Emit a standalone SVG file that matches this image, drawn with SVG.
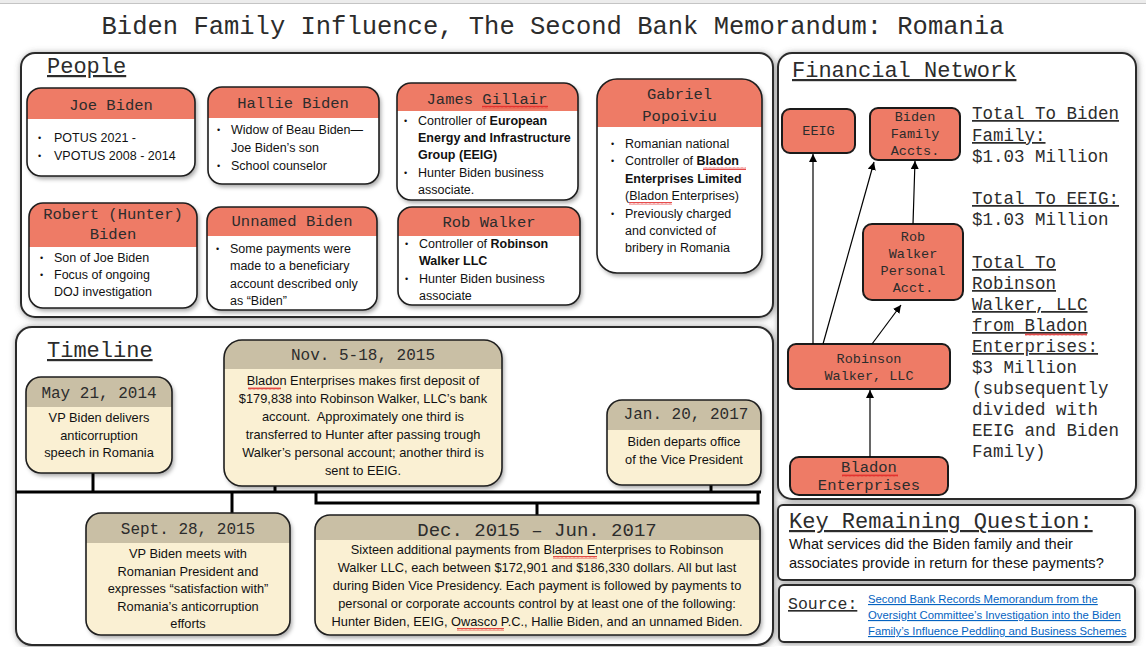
<svg xmlns="http://www.w3.org/2000/svg" width="1146" height="647" viewBox="0 0 1146 647">
<defs>
<style>
.mono{font-family:"Liberation Mono","Courier New",monospace;fill:#2c2c2c}
.sans{font-family:"Liberation Sans",Arial,sans-serif;fill:#111}
.panel{fill:#fff;stroke:#2a2a2a;stroke-width:2}
.cardbg{fill:#fff}
.tlbg{fill:#faf0d3}
.outline{fill:none;stroke:#1e1e1e;stroke-width:1.6}
.salmon{fill:#ee7b66}
.taupe{fill:#c9bfa5}
.hd{font-size:15.5px;text-anchor:middle}
.bl{font-size:12.5px}
.bu{font-size:9px}
.tb{font-size:12.8px;text-anchor:middle}
.dt{font-size:16px;text-anchor:middle}
.fn{font-size:13.5px;text-anchor:middle}
.tot{font-size:17.5px}
.u{text-decoration:underline}
.tl{stroke:#000;stroke-width:3;fill:none}
.arr{stroke:#000;stroke-width:1.2;fill:none;marker-end:url(#ah)}
.sq{fill:url(#squig)}
</style>
<filter id="sh" x="-10%" y="-10%" width="125%" height="130%">
<feDropShadow dx="2" dy="3" stdDeviation="2" flood-color="#000" flood-opacity="0.35"/>
</filter>
<filter id="psh" x="-5%" y="-5%" width="110%" height="112%">
<feDropShadow dx="1" dy="1" stdDeviation="3" flood-color="#555" flood-opacity="0.65"/>
</filter>
<marker id="ah" viewBox="0 0 10 10" refX="10" refY="5" markerWidth="8" markerHeight="8" markerUnits="userSpaceOnUse" orient="auto">
<path d="M0,0 L10,5 L0,10 Z" fill="#000"/>
</marker>
<pattern id="squig" width="4" height="3" patternUnits="userSpaceOnUse">
<path d="M0,2.5 L1,0.5 L2,2.5 L3,0.5 L4,2.5" stroke="#e02020" stroke-width="0.8" fill="none"/>
</pattern>
</defs>

<rect x="0" y="0" width="1146" height="647" fill="#fff"/>
<rect x="0" y="0" width="1146" height="3" fill="#ececec"/>
<line x1="0" y1="3.5" x2="1146" y2="3.5" stroke="#c4c4c4" stroke-width="1"/>

<text class="mono" x="553" y="34" font-size="25.5" text-anchor="middle">Biden Family Influence, The Second Bank Memorandum: Romania</text>

<!-- Panels -->
<g id="people-panel">
<rect class="panel" x="21" y="53" width="752" height="264" rx="14" filter="url(#psh)"/>
<text class="mono u" x="47" y="73" font-size="22">People</text>
</g>
<g id="timeline-panel">
<rect class="panel" x="16" y="327" width="757" height="318" rx="16" filter="url(#psh)"/>
<text class="mono u" x="47" y="357" font-size="22">Timeline</text>
</g>
<g id="financial-panel">
<rect class="panel" x="778" y="53" width="358" height="446" rx="14" filter="url(#psh)"/>
<text class="mono u" x="792" y="77" font-size="22">Financial Network</text>
</g>

<!-- People cards -->
<g id="joe-biden">
<rect class="cardbg" x="27" y="88" width="168" height="88" rx="14" filter="url(#sh)"/>
<path class="salmon" d="M27,119 V102 A14,14 0 0 1 41,88 H181 A14,14 0 0 1 195,102 V119 Z"/>
<rect class="outline" x="27" y="88" width="168" height="88" rx="14"/>
<text class="mono hd" x="111" y="110">Joe Biden</text>
<text class="sans bu" x="38" y="141">•</text><text class="sans bl" x="54" y="142">POTUS 2021 -</text>
<text class="sans bu" x="38" y="159">•</text><text class="sans bl" x="54" y="160">VPOTUS 2008 - 2014</text>
</g>

<g id="hallie-biden">
<rect class="cardbg" x="208" y="87" width="171" height="97" rx="14" filter="url(#sh)"/>
<path class="salmon" d="M208,118 V101 A14,14 0 0 1 222,87 H365 A14,14 0 0 1 379,101 V118 Z"/>
<rect class="outline" x="208" y="87" width="171" height="97" rx="14"/>
<text class="mono hd" x="293" y="108">Hallie Biden</text>
<text class="sans bu" x="217" y="133">•</text><text class="sans bl" x="231" y="134">Widow of Beau Biden—</text>
<text class="sans bl" x="231" y="152">Joe Biden’s son</text>
<text class="sans bu" x="217" y="169">•</text><text class="sans bl" x="231" y="170">School counselor</text>
</g>

<g id="james-gillair">
<rect class="cardbg" x="397" y="83" width="181" height="117" rx="14" filter="url(#sh)"/>
<path class="salmon" d="M397,111 V97 A14,14 0 0 1 411,83 H564 A14,14 0 0 1 578,97 V111 Z"/>
<rect class="outline" x="397" y="83" width="181" height="117" rx="14"/>
<text class="mono hd" x="487" y="104">James Gillair</text>
<rect class="sq" x="482" y="105.5" width="66" height="3"/>
<text class="sans bu" x="404" y="124">•</text><text class="sans bl" x="418" y="125">Controller of <tspan font-weight="bold">European</tspan></text>
<text class="sans bl" x="418" y="142" font-weight="bold">Energy and Infrastructure</text>
<text class="sans bl" x="418" y="159" font-weight="bold">Group (EEIG)</text>
<text class="sans bu" x="404" y="176">•</text><text class="sans bl" x="418" y="177">Hunter Biden business</text>
<text class="sans bl" x="418" y="194">associate.</text>
</g>

<g id="gabriel-popoiviu">
<rect class="cardbg" x="597" y="79" width="165" height="194" rx="20" filter="url(#sh)"/>
<path class="salmon" d="M597,127 V99 A20,20 0 0 1 617,79 H742 A20,20 0 0 1 762,99 V127 Z"/>
<rect class="outline" x="597" y="79" width="165" height="194" rx="20"/>
<text class="mono hd" x="679.5" y="99">Gabriel</text>
<text class="mono hd" x="679.5" y="121">Popoiviu</text>
<text class="sans bu" x="611" y="147">•</text><text class="sans bl" x="625" y="148">Romanian national</text>
<text class="sans bu" x="611" y="164">•</text><text class="sans bl" x="625" y="165">Controller of <tspan font-weight="bold">Bladon</tspan></text>
<rect class="sq" x="703" y="167" width="43" height="3"/>
<text class="sans bl" x="625" y="183" font-weight="bold">Enterprises Limited</text>
<text class="sans bl" x="625" y="200">(Bladon Enterprises)</text>
<rect class="sq" x="629" y="202" width="43" height="3"/>
<text class="sans bu" x="611" y="217">•</text><text class="sans bl" x="625" y="218">Previously charged</text>
<text class="sans bl" x="625" y="235">and convicted of</text>
<text class="sans bl" x="625" y="252">bribery in Romania</text>
</g>

<g id="robert-hunter-biden">
<rect class="cardbg" x="29" y="203" width="168" height="105" rx="14" filter="url(#sh)"/>
<path class="salmon" d="M29,247 V217 A14,14 0 0 1 43,203 H183 A14,14 0 0 1 197,217 V247 Z"/>
<rect class="outline" x="29" y="203" width="168" height="105" rx="14"/>
<text class="mono hd" x="113" y="219">Robert (Hunter)</text>
<text class="mono hd" x="113" y="239">Biden</text>
<text class="sans bu" x="40" y="261">•</text><text class="sans bl" x="54" y="262">Son of Joe Biden</text>
<text class="sans bu" x="40" y="278">•</text><text class="sans bl" x="54" y="279">Focus of ongoing</text>
<text class="sans bl" x="54" y="296">DOJ investigation</text>
</g>

<g id="unnamed-biden">
<rect class="cardbg" x="207" y="207" width="170" height="103" rx="14" filter="url(#sh)"/>
<path class="salmon" d="M207,236 V221 A14,14 0 0 1 221,207 H363 A14,14 0 0 1 377,221 V236 Z"/>
<rect class="outline" x="207" y="207" width="170" height="103" rx="14"/>
<text class="mono hd" x="292" y="226">Unnamed Biden</text>
<text class="sans bu" x="216" y="252">•</text><text class="sans bl" x="230" y="253">Some payments were</text>
<text class="sans bl" x="230" y="270">made to a beneficiary</text>
<text class="sans bl" x="230" y="288">account described only</text>
<text class="sans bl" x="230" y="305">as “Biden”</text>
</g>

<g id="rob-walker">
<rect class="cardbg" x="398" y="207" width="182" height="98" rx="14" filter="url(#sh)"/>
<path class="salmon" d="M398,236 V221 A14,14 0 0 1 412,207 H566 A14,14 0 0 1 580,221 V236 Z"/>
<rect class="outline" x="398" y="207" width="182" height="98" rx="14"/>
<text class="mono hd" x="489" y="227">Rob Walker</text>
<text class="sans bu" x="405" y="247">•</text><text class="sans bl" x="419" y="248">Controller of <tspan font-weight="bold">Robinson</tspan></text>
<text class="sans bl" x="419" y="265" font-weight="bold">Walker LLC</text>
<text class="sans bu" x="405" y="282">•</text><text class="sans bl" x="419" y="283">Hunter Biden business</text>
<text class="sans bl" x="419" y="300">associate</text>
</g>

<!-- Timeline connectors -->
<g id="timeline-connectors">
<line class="tl" x1="16" y1="492" x2="761" y2="492"/>
<path class="tl" d="M316,492 V503 H758 V492"/>
<line class="tl" x1="93" y1="473" x2="93" y2="492"/>
<line class="tl" x1="275" y1="486" x2="275" y2="492"/>
<line class="tl" x1="711" y1="485" x2="711" y2="492"/>
<line class="tl" x1="232" y1="492" x2="232" y2="513"/>
<line class="tl" x1="537" y1="503" x2="537" y2="515"/>
</g>

<!-- Timeline events -->
<g id="may-2014">
<rect class="tlbg" x="26" y="377" width="146" height="96" rx="15" filter="url(#sh)"/>
<path class="taupe" d="M26,407 V392 A15,15 0 0 1 41,377 H157 A15,15 0 0 1 172,392 V407 Z"/>
<rect class="outline" x="26" y="377" width="146" height="96" rx="15"/>
<text class="mono dt" x="99" y="398">May 21, 2014</text>
<text class="sans tb" x="99" y="422">VP Biden delivers</text>
<text class="sans tb" x="99" y="440">anticorruption</text>
<text class="sans tb" x="99" y="457">speech in Romania</text>
</g>

<g id="nov-2015">
<rect class="tlbg" x="224" y="340" width="278" height="146" rx="18" filter="url(#sh)"/>
<path class="taupe" d="M224,369 V358 A18,18 0 0 1 242,340 H484 A18,18 0 0 1 502,358 V369 Z"/>
<rect class="outline" x="224" y="340" width="278" height="146" rx="18"/>
<text class="mono dt" x="363" y="360">Nov. 5-18, 2015</text>
<text class="sans tb" x="363" y="385">Bladon Enterprises makes first deposit of</text>
<rect class="sq" x="248" y="387" width="33" height="3"/>
<text class="sans tb" x="363" y="403">$179,838 into Robinson Walker, LLC’s bank</text>
<text class="sans tb" x="363" y="421">account.&#160; Approximately one third is</text>
<text class="sans tb" x="363" y="439">transferred to Hunter after passing trough</text>
<text class="sans tb" x="363" y="457">Walker’s personal account; another third is</text>
<text class="sans tb" x="363" y="475">sent to EEIG.</text>
</g>

<g id="jan-2017">
<rect class="tlbg" x="607" y="400" width="154" height="85" rx="15" filter="url(#sh)"/>
<path class="taupe" d="M607,430 V415 A15,15 0 0 1 622,400 H746 A15,15 0 0 1 761,415 V430 Z"/>
<rect class="outline" x="607" y="400" width="154" height="85" rx="15"/>
<text class="mono dt" x="686" y="419">Jan. 20, 2017</text>
<text class="sans tb" x="684" y="446">Biden departs office</text>
<text class="sans tb" x="684" y="464">of the Vice President</text>
</g>

<g id="sept-2015">
<rect class="tlbg" x="86" y="513" width="204" height="122" rx="15" filter="url(#sh)"/>
<path class="taupe" d="M86,543 V528 A15,15 0 0 1 101,513 H275 A15,15 0 0 1 290,528 V543 Z"/>
<rect class="outline" x="86" y="513" width="204" height="122" rx="15"/>
<text class="mono dt" x="188" y="534">Sept. 28, 2015</text>
<text class="sans tb" x="188" y="558">VP Biden meets with</text>
<text class="sans tb" x="188" y="576">Romanian President and</text>
<text class="sans tb" x="188" y="593">expresses “satisfaction with”</text>
<text class="sans tb" x="188" y="611">Romania’s anticorruption</text>
<text class="sans tb" x="188" y="628">efforts</text>
</g>

<g id="dec-2015-jun-2017">
<rect class="tlbg" x="315" y="515" width="445" height="120" rx="15" filter="url(#sh)"/>
<path class="taupe" d="M315,540 V530 A15,15 0 0 1 330,515 H745 A15,15 0 0 1 760,530 V540 Z"/>
<rect class="outline" x="315" y="515" width="445" height="120" rx="15"/>
<text class="mono" x="537" y="536" font-size="19" text-anchor="middle">Dec. 2015 – Jun. 2017</text>
<text class="sans tb" x="537" y="554">Sixteen additional payments from Bladon Enterprises to Robinson</text>
<rect class="sq" x="553" y="556" width="44" height="3"/>
<text class="sans tb" x="537" y="572">Walker LLC, each between $172,901 and $186,330 dollars. All but last</text>
<text class="sans tb" x="537" y="590">during Biden Vice Presidency. Each payment is followed by payments to</text>
<text class="sans tb" x="537" y="608">personal or corporate accounts control by at least one of the following:</text>
<text class="sans tb" x="537" y="626">Hunter Biden, EEIG, Owasco P.C., Hallie Biden, and an unnamed Biden.</text>
<rect class="sq" x="457" y="628" width="47" height="3"/>
</g>

<!-- Financial network nodes -->
<g id="eeig">
<rect class="salmon" x="782" y="109" width="73" height="44" rx="8" stroke="#1a1a1a" stroke-width="2"/>
<text class="mono fn" x="818.5" y="135">EEIG</text>
</g>
<g id="biden-family-accts">
<rect class="salmon" x="870" y="108" width="90" height="52" rx="8" stroke="#1a1a1a" stroke-width="2"/>
<text class="mono fn" x="915" y="121">Biden</text>
<text class="mono fn" x="915" y="138">Family</text>
<text class="mono fn" x="915" y="155">Accts.</text>
</g>
<g id="rob-walker-personal">
<rect class="salmon" x="863" y="224" width="100" height="76" rx="9" stroke="#1a1a1a" stroke-width="2"/>
<text class="mono fn" x="913" y="241">Rob</text>
<text class="mono fn" x="913" y="258">Walker</text>
<text class="mono fn" x="913" y="275">Personal</text>
<text class="mono fn" x="913" y="292">Acct.</text>
</g>
<g id="robinson-walker-llc">
<rect class="salmon" x="788" y="344" width="162" height="45" rx="8" stroke="#1a1a1a" stroke-width="2"/>
<text class="mono fn" x="869" y="363">Robinson</text>
<text class="mono fn" x="869" y="380">Walker, LLC</text>
</g>
<g id="bladon-enterprises">
<rect class="salmon" x="790" y="457" width="158" height="38" rx="9" stroke="#1a1a1a" stroke-width="2"/>
<text class="mono" x="869" y="472" font-size="15.5" text-anchor="middle">Bladon</text>
<rect class="sq" x="842" y="474" width="56" height="3"/>
<text class="mono" x="869" y="490" font-size="15.5" text-anchor="middle">Enterprises</text>
</g>

<g id="financial-connectors">
<line class="arr" x1="870" y1="457" x2="870" y2="390"/>
<line class="arr" x1="813" y1="344" x2="813" y2="154"/>
<line class="arr" x1="823" y1="344" x2="874" y2="162"/>
<line class="arr" x1="872" y1="344" x2="901" y2="305"/>
<line class="arr" x1="913" y1="224" x2="915" y2="161"/>
</g>

<g id="totals">
<text class="mono tot u" x="972" y="119">Total To Biden</text>
<text class="mono tot u" x="972" y="141">Family:</text>
<text class="mono tot" x="972" y="162">$1.03 Million</text>
<text class="mono tot u" x="972" y="204">Total To EEIG:</text>
<text class="mono tot" x="972" y="225">$1.03 Million</text>
<text class="mono tot u" x="972" y="268">Total To</text>
<text class="mono tot u" x="972" y="289">Robinson</text>
<text class="mono tot u" x="972" y="310">Walker, LLC</text>
<text class="mono tot u" x="972" y="331">from Bladon</text>
<rect class="sq" x="1025" y="333" width="62" height="3"/>
<text class="mono tot u" x="972" y="352">Enterprises:</text>
<text class="mono tot" x="972" y="373">$3 Million</text>
<text class="mono tot" x="972" y="394">(subsequently</text>
<text class="mono tot" x="972" y="415">divided with</text>
<text class="mono tot" x="972" y="436">EEIG and Biden</text>
<text class="mono tot" x="972" y="457">Family)</text>
</g>

<g id="key-question">
<rect class="panel" x="778" y="505" width="357" height="75" rx="5" filter="url(#psh)"/>
<text class="mono u" x="789" y="528" font-size="22">Key Remaining Question:</text>
<text class="sans" x="789" y="549" font-size="14.6">What services did the Biden family and their</text>
<text class="sans" x="789" y="568" font-size="14.6">associates provide in return for these payments?</text>
</g>

<g id="source">
<rect class="panel" x="779" y="585" width="356" height="57" rx="5" filter="url(#psh)"/>
<text class="mono u" x="788" y="609" font-size="16.5">Source:</text>
<text class="sans u" x="868" y="603" font-size="11.3" style="fill:#0563c1">Second Bank Records Memorandum from the</text>
<text class="sans u" x="868" y="619" font-size="11.3" style="fill:#0563c1">Oversight Committee’s Investigation into the Biden</text>
<text class="sans u" x="868" y="635" font-size="11.3" style="fill:#0563c1">Family’s Influence Peddling and Business Schemes</text>
</g>
</svg>
